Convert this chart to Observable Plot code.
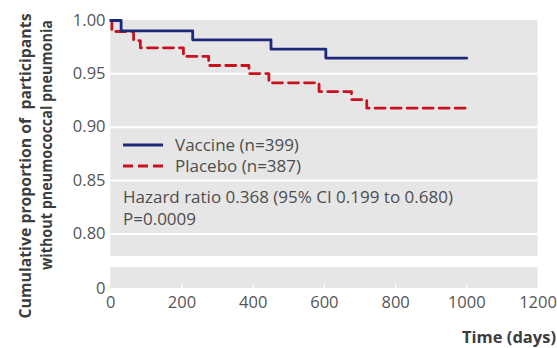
<!DOCTYPE html>
<html><head><meta charset="utf-8">
<script src="https://cdn.jsdelivr.net/npm/d3@7"></script>
<script src="https://cdn.jsdelivr.net/npm/@observablehq/plot@0.6"></script>
<style>
body{margin:0;background:#fff;}
#chart{position:relative;width:557px;height:348px;}
svg{display:block;}
</style></head><body><div id="chart"></div>
<script>
// Kaplan–Meier step data (days, cumulative proportion without pneumonia)
const vaccineDays = [0, 29, 230, 450, 604, 1000];
const vaccineSurv = [1.0, 0.9902, 0.9819, 0.9731, 0.9648, 0.9648];
const placeboDays = [0, 3, 64, 83, 204, 275, 388, 444, 585, 676, 719, 1000];
const placeboSurv = [1.0, 0.9897, 0.9812, 0.9744, 0.9663, 0.9578, 0.9503, 0.9416, 0.9334, 0.9259, 0.9178, 0.9178];
const seriesNames = ["Vaccine (n=399)", "Placebo (n=387)"];
const seriesColors = ["#1f287a", "#c8131f"];
const xTicks = [0, 200, 400, 600, 800, 1000, 1200];
const xInnerTicks = [200, 400, 600, 800, 1000];
const yTicks = [0, 0.80, 0.85, 0.90, 0.95, 1.00];
const yTickLabels = ["0", "0.80", "0.85", "0.90", "0.95", "1.00"];
const gridValues = [0.80, 0.85, 0.90, 0.95];
const annotation = ["Hazard ratio 0.368 (95% CI 0.199 to 0.680)", "P=0.0009"];
const yTitle = ["Cumulative proportion of  participants", "without pneumococcal pneumonia"];
const xTitle = "Time (days)";
// broken y axis: lower stub [0, 0.0197], upper panel [0.7788, 1]
const panels = [{y1: 0, y2: 0.0197}, {y1: 0.7788, y2: 1.0}];
const tickTop = 0.0036;

const vaccine = vaccineDays.map((t, i) => ({t, s: vaccineSurv[i]}));
const placebo = placeboDays.map((t, i) => ({t, s: placeboSurv[i]}));

const font = "'Open Sans', sans-serif";
const chart = Plot.plot({
  width: 557, height: 348,
  marginLeft: 110, marginRight: 19.5, marginTop: 20, marginBottom: 60,
  x: {domain: [0, 1200], range: [110.3, 537.5]},
  y: {type: "linear", domain: [0, 0.0197, 0.7788, 1.0], range: [288, 267, 256, 20]},
  style: {fontFamily: font, fontSize: "16.5px", color: "#555", background: "white", overflow: "visible"},
  marks: [
    Plot.rect(panels, {x1: 0, x2: 1200, y1: "y1", y2: "y2", fill: "#e6e6e6"}),
    Plot.ruleY(gridValues, {x1: 0, x2: 1200, stroke: "white", strokeWidth: 2}),
    Plot.ruleX(xInnerTicks, {y1: 0, y2: tickTop, stroke: "white", strokeWidth: 1.5}),
    Plot.axisY({ticks: yTicks, tickSize: 0, tickPadding: 5, fill: "#555",
      tickFormat: d => yTickLabels[yTicks.indexOf(d)]}),
    Plot.axisX({ticks: xTicks, tickSize: 0, tickPadding: 8, fill: "#555", label: null, tickFormat: d => String(d)}),
    Plot.line(placebo, {x: "t", y: "s", curve: "step-after", stroke: seriesColors[1], strokeWidth: 2.8, strokeDasharray: "10,6"}),
    Plot.line(vaccine, {x: "t", y: "s", curve: "step-after", stroke: seriesColors[0], strokeWidth: 2.8})
  ]
});
document.getElementById("chart").appendChild(chart);

const svg = d3.select(chart);
const txtStyle = `font-family:${font};font-size:17px;text-anchor:start;fill:#4d4d4d;`;
const leg = svg.append("g");
seriesNames.forEach((name, i) => {
  const y = 145 + i * 21;
  leg.append("line").attr("x1", 123).attr("x2", 163).attr("y1", y).attr("y2", y)
    .attr("stroke", seriesColors[i]).attr("stroke-width", 2.8)
    .attr("stroke-dasharray", i === 1 ? "10,5" : null);
  leg.append("text").attr("style", txtStyle).attr("x", 175).attr("y", y).attr("dy", "0.35em").text(name);
});
annotation.forEach((line, i) => {
  leg.append("text").attr("style", txtStyle).attr("x", 123).attr("y", 197 + i * 22).attr("dy", "0.35em").text(line);
});
// axis titles
const boldY = `font-family:${font};font-size:15.5px;font-weight:bold;fill:#3d3d3d;`;
const boldX = `font-family:${font};font-size:16.5px;font-weight:bold;fill:#3d3d3d;`;
svg.append("text").attr("style", boldY + "text-anchor:middle").attr("transform", "translate(31,166) rotate(-90)")
  .attr("textLength", 305).attr("lengthAdjust", "spacingAndGlyphs").text(yTitle[0]);
svg.append("text").attr("style", boldY + "text-anchor:middle").attr("transform", "translate(52,145) rotate(-90)")
  .attr("textLength", 250).attr("lengthAdjust", "spacingAndGlyphs").text(yTitle[1]);
svg.append("text").attr("style", boldX + "text-anchor:end").attr("x", 556).attr("y", 343).text(xTitle);
</script>
</body></html>
